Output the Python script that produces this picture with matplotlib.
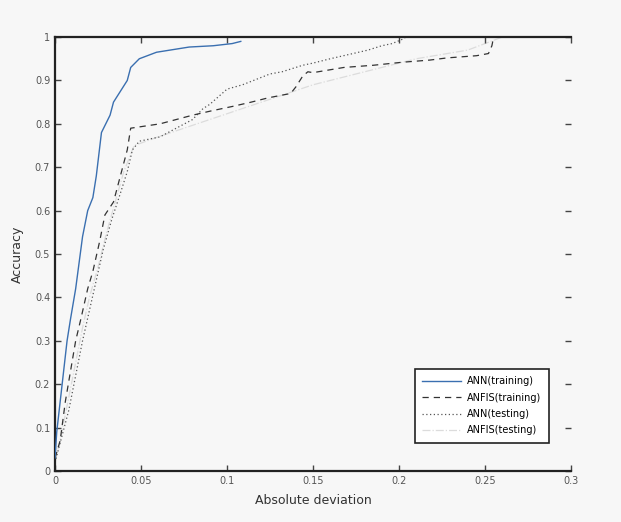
import matplotlib
matplotlib.use("Agg")
import matplotlib.pyplot as plt
import numpy as np

# Data (REC-style curves)
ann_train_x = [0, 0.001, 0.003, 0.005, 0.007, 0.009, 0.012, 0.016, 0.019, 0.022, 0.024, 0.027,
               0.032, 0.034, 0.042, 0.044, 0.049, 0.059, 0.078, 0.092, 0.103, 0.108]
ann_train_y = [0.03, 0.09, 0.16, 0.23, 0.30, 0.35, 0.42, 0.54, 0.60, 0.63, 0.68, 0.78,
               0.82, 0.85, 0.90, 0.93, 0.95, 0.965, 0.977, 0.98, 0.985, 0.99]

anfis_train_x = [0, 0.003, 0.006, 0.009, 0.012, 0.015, 0.019, 0.022, 0.026, 0.029, 0.034, 0.038,
                 0.042, 0.044, 0.061, 0.080, 0.091, 0.103, 0.114, 0.124, 0.137, 0.140, 0.144,
                 0.147, 0.150, 0.168, 0.185, 0.202, 0.218, 0.228, 0.245, 0.252, 0.254, 0.255]
anfis_train_y = [0.03, 0.07, 0.16, 0.23, 0.30, 0.35, 0.42, 0.46, 0.53, 0.59, 0.62, 0.68,
                 0.74, 0.79, 0.80, 0.82, 0.83, 0.84, 0.85, 0.86, 0.87, 0.885, 0.91,
                 0.92, 0.918, 0.93, 0.935, 0.942, 0.947, 0.952, 0.957, 0.962, 0.98, 1.0]

ann_test_x = [0, 0.004, 0.008, 0.012, 0.016, 0.020, 0.024, 0.028, 0.033, 0.038, 0.042, 0.045,
              0.049, 0.061, 0.080, 0.086, 0.090, 0.100, 0.109, 0.125, 0.132, 0.144, 0.150,
              0.160, 0.171, 0.182, 0.190, 0.196, 0.202, 0.204]
ann_test_y = [0.02, 0.08, 0.14, 0.22, 0.30, 0.37, 0.44, 0.51, 0.58, 0.64, 0.69, 0.74,
              0.76, 0.77, 0.81, 0.835, 0.845, 0.88, 0.89, 0.915, 0.92, 0.935, 0.94,
              0.95, 0.96, 0.97, 0.98, 0.985, 0.995, 1.0]

anfis_test_x = [0, 0.004, 0.008, 0.012, 0.016, 0.020, 0.025, 0.030, 0.035, 0.040, 0.046,
                0.060, 0.090, 0.120, 0.150, 0.180, 0.210, 0.240, 0.260]
anfis_test_y = [0.02, 0.09, 0.17, 0.25, 0.33, 0.40, 0.47, 0.55, 0.62, 0.69, 0.75,
                0.77, 0.81, 0.85, 0.89, 0.92, 0.95, 0.97, 1.0]

labels = ["ANN(training)", "ANFIS(training)", "ANN(testing)", "ANFIS(testing)"]
x_ticks = [0, 0.05, 0.1, 0.15, 0.2, 0.25, 0.3]
x_ticklabels = ["0", "0.05", "0.1", "0.15", "0.2", "0.25", "0.3"]
y_ticks = [0, 0.1, 0.2, 0.3, 0.4, 0.5, 0.6, 0.7, 0.8, 0.9, 1.0]
y_ticklabels = ["0", "0.1", "0.2", "0.3", "0.4", "0.5", "0.6", "0.7", "0.8", "0.9", "1"]

fig = plt.figure(figsize=(6.21, 5.22), dpi=100, facecolor="#f7f7f7")
ax = fig.add_axes([0.0886, 0.0977, 0.8309, 0.8313])
ax.set_facecolor("#f7f7f7")

ax.plot(anfis_test_x, anfis_test_y, color="#dcdcdc", lw=0.9, ls="-.", label=labels[3], zorder=1)
ax.plot(ann_test_x, ann_test_y, color="#555555", lw=0.9, ls=(0, (1, 2)), label=labels[2], zorder=2)
ax.plot(anfis_train_x, anfis_train_y, color="#333333", lw=0.9, ls=(0, (5, 4)), label=labels[1], zorder=3)
ax.plot(ann_train_x, ann_train_y, color="#3a6fb0", lw=1.0, ls="-", label=labels[0], zorder=4)

ax.set_xlim(0, 0.3)
ax.set_ylim(0, 1)
ax.set_xticks(x_ticks)
ax.set_xticklabels(x_ticklabels)
ax.set_yticks(y_ticks)
ax.set_yticklabels(y_ticklabels)
ax.tick_params(direction="in", top=True, right=True, length=4, width=1, labelsize=7,
               colors="#444444", labelcolor="#555555")

for s in ["left", "bottom", "top"]:
    ax.spines[s].set_linewidth(1.6)
    ax.spines[s].set_color("#222222")
ax.spines["right"].set_visible(False)

ax.set_xlabel("Absolute deviation", fontsize=9, color="#333333", labelpad=6)
ax.set_ylabel("Accuracy", fontsize=9, color="#333333", labelpad=8)

handles, lbls = ax.get_legend_handles_labels()
order = [3, 2, 1, 0]
leg = ax.legend([handles[i] for i in order], [lbls[i] for i in order],
                loc="lower right", bbox_to_anchor=(0.967, 0.053), fontsize=7,
                fancybox=False, edgecolor="#222222", framealpha=1, facecolor="white",
                handlelength=4.0, borderpad=0.8, labelspacing=0.65, handletextpad=0.6)
leg.get_frame().set_linewidth(1.2)

fig.savefig("out.png", dpi=100, facecolor=fig.get_facecolor())
